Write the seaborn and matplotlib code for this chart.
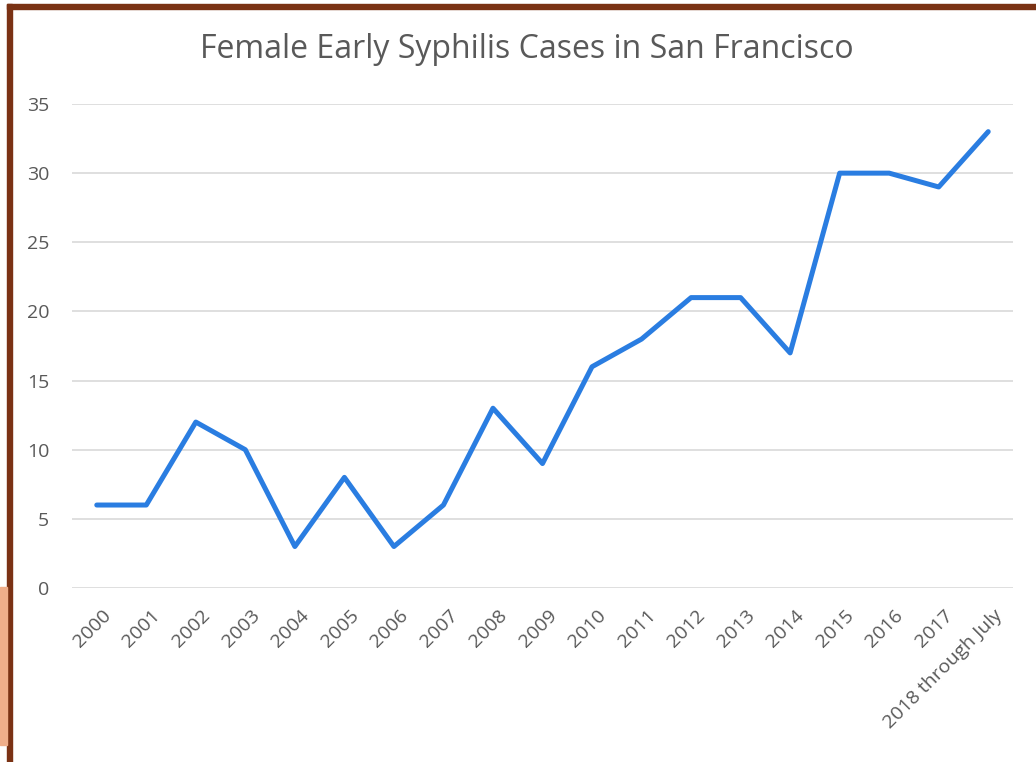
import numpy as np
import pandas as pd
import matplotlib
matplotlib.use("Agg")
from matplotlib import pyplot as plt
from matplotlib.patches import Rectangle
from matplotlib.transforms import ScaledTranslation
import seaborn as sns

# Data
years = ["2000", "2001", "2002", "2003", "2004", "2005", "2006", "2007", "2008",
         "2009", "2010", "2011", "2012", "2013", "2014", "2015", "2016", "2017",
         "2018 through July"]
cases = [6, 6, 12, 10, 3, 8, 3, 6, 13, 9, 16, 18, 21, 21, 17, 30, 30, 29, 33]

df = pd.DataFrame({"year": years, "cases": cases})
df["pos"] = np.arange(len(years))

sns.set_style("white")
plt.rcParams["font.family"] = ["Open Sans", "DejaVu Sans"]

fig = plt.figure(figsize=(10.36, 7.62), dpi=100)
ax = fig.add_axes([72 / 1036, 1 - 588 / 762, (1013 - 72) / 1036, (588 - 104) / 762])

sns.lineplot(data=df, x="pos", y="cases", ax=ax, color="#2a7de1", linewidth=3.6)

ax.set_xlim(-0.5, len(years) - 0.5)
ax.set_ylim(0, 35)
ax.set_yticks(range(0, 36, 5))
ax.set_xticks(df["pos"])
ax.set_xticklabels(years, rotation=45, ha="right", rotation_mode="anchor")
ax.tick_params(axis="both", colors="#595959", labelsize=14, length=0)
ax.tick_params(axis="y", pad=16.5)
ax.tick_params(axis="x", pad=13)
# nudge the rotated labels a little right, like the original
shift = ScaledTranslation(5 / 100, 0, fig.dpi_scale_trans)
for lbl in ax.get_xticklabels():
    lbl.set_transform(lbl.get_transform() + shift)
ax.grid(axis="y", color="#d9d9d9", linewidth=1.2)
ax.set_axisbelow(True)
for s in ax.spines.values():
    s.set_visible(False)
ax.set_xlabel("")
ax.set_ylabel("")

fig.text(527 / 1036, 1 - 50 / 762, "Female Early Syphilis Cases in San Francisco",
         ha="center", va="center", fontsize=23, color="#595959")

# slide frame pieces around the chart
fig.add_artist(Rectangle((7 / 1036, 0), 5 / 1036, 1 - 4 / 762, transform=fig.transFigure,
                         color="#7a3214", zorder=5))
fig.add_artist(Rectangle((7 / 1036, 1 - 9 / 762), 1 - 7 / 1036, 5 / 762, transform=fig.transFigure,
                         color="#7a3214", zorder=5))
fig.add_artist(Rectangle((0, 1 - 745 / 762), 7 / 1036, 158 / 762, transform=fig.transFigure,
                         color="#efae8a", zorder=5))

fig.savefig("out.png", dpi=100)
